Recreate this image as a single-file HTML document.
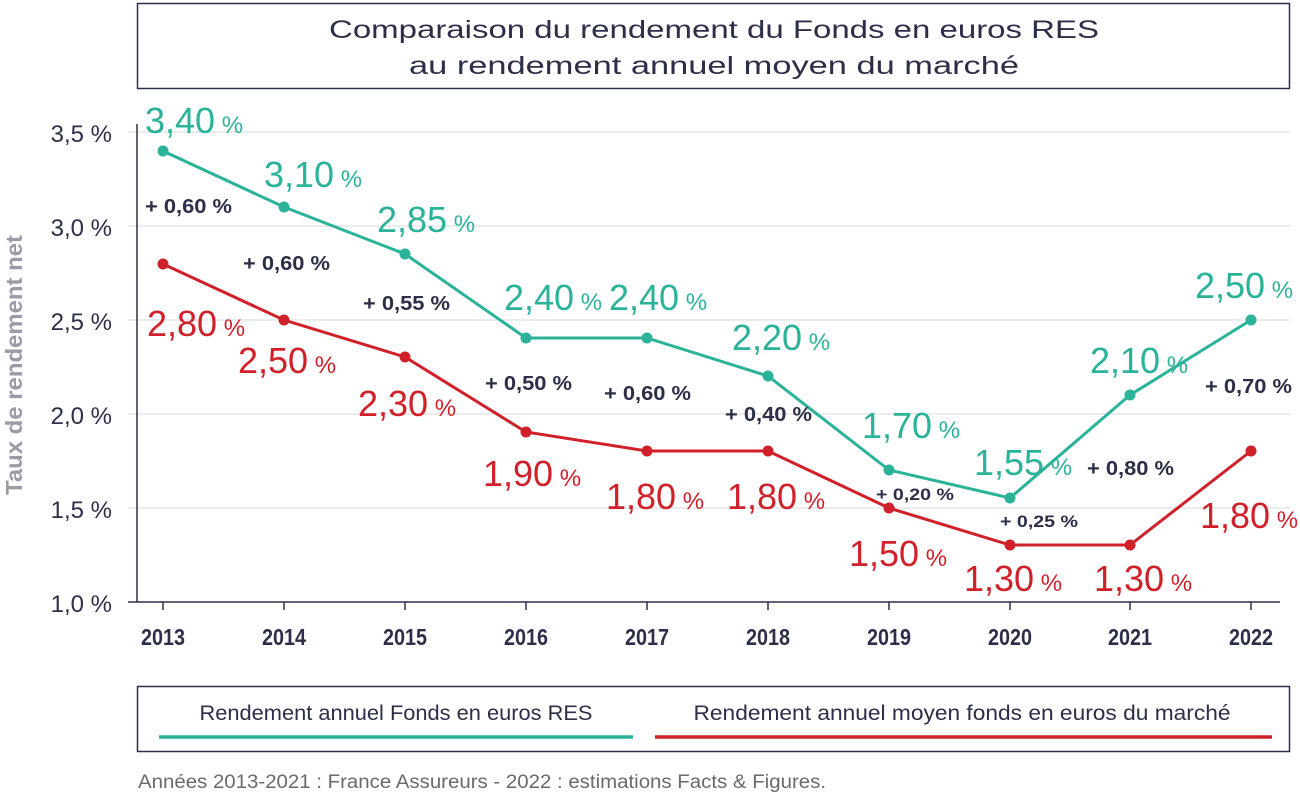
<!DOCTYPE html>
<html><head><meta charset="utf-8"><style>
html,body{margin:0;padding:0;background:#fff}
svg{display:block;font-family:"Liberation Sans",sans-serif}
.g{fill:#2bb39a}.r{fill:#d0202a}.d{fill:#2d2f48}
</style></head><body>
<svg width="1300" height="795" viewBox="0 0 1300 795">
<rect x="137.5" y="3.5" width="1152" height="85" fill="#fff" stroke="#2d2f48" stroke-width="1.5"/>
<text x="714" y="38" text-anchor="middle" font-size="25" class="d" textLength="770" lengthAdjust="spacingAndGlyphs">Comparaison du rendement du Fonds en euros RES</text>
<text x="714" y="74" text-anchor="middle" font-size="25" class="d" textLength="610" lengthAdjust="spacingAndGlyphs">au rendement annuel moyen du marché</text>
<g stroke="#e6e6e6" stroke-width="1.5">
<line x1="128" y1="132" x2="1290" y2="132"/><line x1="128" y1="226" x2="1290" y2="226"/><line x1="128" y1="320" x2="1290" y2="320"/><line x1="128" y1="414" x2="1290" y2="414"/><line x1="128" y1="508" x2="1290" y2="508"/>
</g>
<g stroke="#2d2f48" stroke-width="1.5">
<line x1="137" y1="124" x2="137" y2="602"/><line x1="128" y1="602" x2="1280" y2="602"/>
<line x1="163" y1="602" x2="163" y2="610"/><line x1="284" y1="602" x2="284" y2="610"/><line x1="405" y1="602" x2="405" y2="610"/><line x1="526" y1="602" x2="526" y2="610"/><line x1="647" y1="602" x2="647" y2="610"/><line x1="768" y1="602" x2="768" y2="610"/><line x1="889" y1="602" x2="889" y2="610"/><line x1="1010" y1="602" x2="1010" y2="610"/><line x1="1130" y1="602" x2="1130" y2="610"/><line x1="1251" y1="602" x2="1251" y2="610"/>
</g>
<g font-size="24" class="d" text-anchor="end">
<text x="112" y="142">3,5 %</text><text x="112" y="236">3,0 %</text><text x="112" y="330">2,5 %</text><text x="112" y="424">2,0 %</text><text x="112" y="518">1,5 %</text><text x="112" y="612">1,0 %</text>
</g>
<text transform="translate(22,365) rotate(-90)" text-anchor="middle" font-size="23" font-weight="bold" fill="#9a9ba5" textLength="260" lengthAdjust="spacingAndGlyphs">Taux de rendement net</text>
<g font-size="23" font-weight="bold" class="d" text-anchor="middle">
<text x="163" y="645" textLength="44" lengthAdjust="spacingAndGlyphs">2013</text><text x="284" y="645" textLength="44" lengthAdjust="spacingAndGlyphs">2014</text><text x="405" y="645" textLength="44" lengthAdjust="spacingAndGlyphs">2015</text><text x="526" y="645" textLength="44" lengthAdjust="spacingAndGlyphs">2016</text><text x="647" y="645" textLength="44" lengthAdjust="spacingAndGlyphs">2017</text><text x="768" y="645" textLength="44" lengthAdjust="spacingAndGlyphs">2018</text><text x="889" y="645" textLength="44" lengthAdjust="spacingAndGlyphs">2019</text><text x="1010" y="645" textLength="44" lengthAdjust="spacingAndGlyphs">2020</text><text x="1130" y="645" textLength="44" lengthAdjust="spacingAndGlyphs">2021</text><text x="1251" y="645" textLength="44" lengthAdjust="spacingAndGlyphs">2022</text>
</g>
<polyline fill="none" stroke="#2bb39a" stroke-width="3" points="163,151 284,207 405,254 526,338 647,338 768,376 889,470 1010,498 1130,395 1251,320"/>
<polyline fill="none" stroke="#d0202a" stroke-width="3" points="163,264 284,320 405,357 526,432 647,451 768,451 889,508 1010,545 1130,545 1251,451"/>
<g class="g"><circle cx="163" cy="151" r="5.5"/><circle cx="284" cy="207" r="5.5"/><circle cx="405" cy="254" r="5.5"/><circle cx="526" cy="338" r="5.5"/><circle cx="647" cy="338" r="5.5"/><circle cx="768" cy="376" r="5.5"/><circle cx="889" cy="470" r="5.5"/><circle cx="1010" cy="498" r="5.5"/><circle cx="1130" cy="395" r="5.5"/><circle cx="1251" cy="320" r="5.5"/></g>
<g class="r"><circle cx="163" cy="264" r="5.5"/><circle cx="284" cy="320" r="5.5"/><circle cx="405" cy="357" r="5.5"/><circle cx="526" cy="432" r="5.5"/><circle cx="647" cy="451" r="5.5"/><circle cx="768" cy="451" r="5.5"/><circle cx="889" cy="508" r="5.5"/><circle cx="1010" cy="545" r="5.5"/><circle cx="1130" cy="545" r="5.5"/><circle cx="1251" cy="451" r="5.5"/></g>
<g font-size="36" class="g">
<text x="145" y="133">3,40<tspan font-size="24"> %</tspan></text>
<text x="264" y="187">3,10<tspan font-size="24"> %</tspan></text>
<text x="377" y="232">2,85<tspan font-size="24"> %</tspan></text>
<text x="504" y="310">2,40<tspan font-size="24"> %</tspan></text>
<text x="609" y="310">2,40<tspan font-size="24"> %</tspan></text>
<text x="732" y="350">2,20<tspan font-size="24"> %</tspan></text>
<text x="862" y="438">1,70<tspan font-size="24"> %</tspan></text>
<text x="974" y="475">1,55<tspan font-size="24"> %</tspan></text>
<text x="1090" y="373">2,10<tspan font-size="24"> %</tspan></text>
<text x="1195" y="298">2,50<tspan font-size="24"> %</tspan></text>
</g>
<g font-size="36" class="r">
<text x="147" y="336">2,80<tspan font-size="24"> %</tspan></text>
<text x="238" y="373">2,50<tspan font-size="24"> %</tspan></text>
<text x="358" y="416">2,30<tspan font-size="24"> %</tspan></text>
<text x="483" y="486">1,90<tspan font-size="24"> %</tspan></text>
<text x="606" y="509">1,80<tspan font-size="24"> %</tspan></text>
<text x="727" y="509">1,80<tspan font-size="24"> %</tspan></text>
<text x="849" y="566">1,50<tspan font-size="24"> %</tspan></text>
<text x="964" y="591">1,30<tspan font-size="24"> %</tspan></text>
<text x="1094" y="591">1,30<tspan font-size="24"> %</tspan></text>
<text x="1200" y="528">1,80<tspan font-size="24"> %</tspan></text>
</g>
<g font-size="20" font-weight="bold" class="d">
<text x="145" y="213" textLength="87" lengthAdjust="spacingAndGlyphs">+ 0,60 %</text>
<text x="243" y="270" textLength="87" lengthAdjust="spacingAndGlyphs">+ 0,60 %</text>
<text x="363" y="310" textLength="87" lengthAdjust="spacingAndGlyphs">+ 0,55 %</text>
<text x="485" y="390" textLength="87" lengthAdjust="spacingAndGlyphs">+ 0,50 %</text>
<text x="604" y="400" textLength="87" lengthAdjust="spacingAndGlyphs">+ 0,60 %</text>
<text x="725" y="421" textLength="87" lengthAdjust="spacingAndGlyphs">+ 0,40 %</text>
<text x="876" y="500" font-size="17" textLength="78" lengthAdjust="spacingAndGlyphs">+ 0,20 %</text>
<text x="1000" y="527" font-size="17" textLength="78" lengthAdjust="spacingAndGlyphs">+ 0,25 %</text>
<text x="1087" y="475" textLength="87" lengthAdjust="spacingAndGlyphs">+ 0,80 %</text>
<text x="1205" y="393" textLength="87" lengthAdjust="spacingAndGlyphs">+ 0,70 %</text>
</g>
<rect x="137.5" y="686.5" width="1152" height="65" fill="#fff" stroke="#2d2f48" stroke-width="1.5"/>
<text x="396" y="720" text-anchor="middle" font-size="21" class="d" textLength="393" lengthAdjust="spacingAndGlyphs">Rendement annuel Fonds en euros RES</text>
<text x="962" y="720" text-anchor="middle" font-size="21" class="d" textLength="537" lengthAdjust="spacingAndGlyphs">Rendement annuel moyen fonds en euros du marché</text>
<line x1="159" y1="737" x2="633" y2="737" stroke="#2bb39a" stroke-width="3.5"/>
<line x1="655" y1="737" x2="1272" y2="737" stroke="#d0202a" stroke-width="3.5"/>
<text x="138" y="788" font-size="19" fill="#6a6a6a" textLength="688" lengthAdjust="spacingAndGlyphs">Années 2013-2021 : France Assureurs - 2022 : estimations Facts &amp; Figures.</text>
</svg>
</body></html>
